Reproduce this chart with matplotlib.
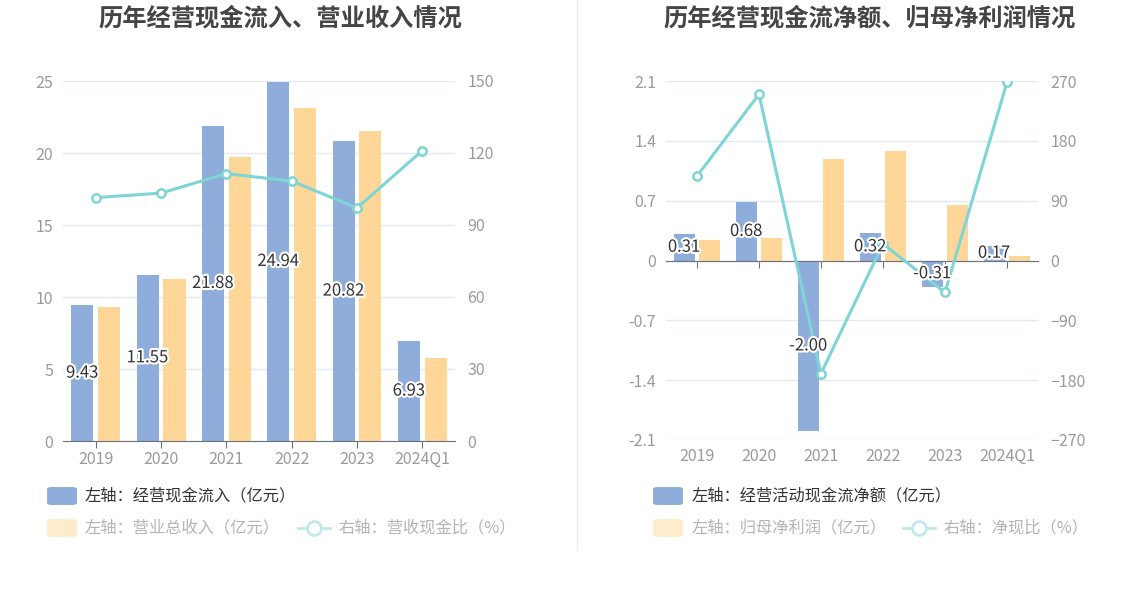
import numpy as np
import matplotlib
matplotlib.use("Agg")
import matplotlib.pyplot as plt
import matplotlib.patheffects as pe
from matplotlib.patches import FancyBboxPatch
from matplotlib.lines import Line2D
from matplotlib.transforms import blended_transform_factory

plt.rcParams['font.family'] = ['Noto Sans CJK SC', 'DejaVu Sans']

# --- datos ---
years = ["2019", "2020", "2021", "2022", "2023", "2024Q1"]

# gráfico izquierdo
cash_in = [9.43, 11.55, 21.88, 24.94, 20.82, 6.93]        # 经营现金流入 (亿元)
revenue = [9.33, 11.23, 19.72, 23.10, 21.53, 5.74]        # 营业总收入 (亿元)
rev_cash_ratio = [101.4, 103.3, 111.4, 108.3, 97.1, 121.0]  # 营收现金比 (%)

# gráfico derecho
net_cf = [0.31, 0.68, -2.00, 0.32, -0.31, 0.17]           # 经营活动现金流净额 (亿元)
net_profit = [0.234, 0.265, 1.183, 1.284, 0.648, 0.058]   # 归母净利润 (亿元)
cash_ratio = [127, 250, -170, 25, -48, 268]               # 净现比 (%)

left_ticks = [0, 5, 10, 15, 20, 25]
left_rticks = [0, 30, 60, 90, 120, 150]
right_ticks = [-2.1, -1.4, -0.7, 0, 0.7, 1.4, 2.1]
right_tick_labels = ["-2.1", "-1.4", "-0.7", "0", "0.7", "1.4", "2.1"]
right_rticks = [-270, -180, -90, 0, 90, 180, 270]

BLUE = "#8eaddb"
ORANGE = "#fed798"
TEAL = "#7fd4d6"
GRID = "#e4e8f2"
TICKC = "#9a9a9a"
AXC = "#6e7079"

W, H = 1148, 589
fig = plt.figure(figsize=(W/100, H/100), dpi=100)
fig.patch.set_facecolor("white")

def rect(l, t, r, b):
    return [l/W, 1-b/H, (r-l)/W, (b-t)/H]

def fx(x): return x/W
def fy(y): return 1-y/H

halo = [pe.withStroke(linewidth=3, foreground="white")]
x = np.arange(len(years))
bw = 0.34
off = 0.205
TS = 11.5

def style(ax, ax2):
    for a in (ax, ax2):
        for s in a.spines.values():
            s.set_visible(False)
    ax.set_xlim(-0.5, len(years)-0.5)
    ax.grid(axis="y", color=GRID, lw=1)
    ax.set_axisbelow(True)
    ax.tick_params(axis="y", length=0, labelsize=TS, labelcolor=TICKC, pad=7)
    ax2.tick_params(axis="y", length=0, labelsize=TS, labelcolor=TICKC, pad=9)

# ---------- izquierda ----------
ax = fig.add_axes(rect(63, 81, 455, 441))
ax2 = ax.twinx()
ax.bar(x-off, cash_in, bw, color=BLUE, zorder=2)
ax.bar(x+off, revenue, bw, color=ORANGE, zorder=2)
ax2.plot(x, rev_cash_ratio, color=TEAL, lw=2.2, marker="o", ms=6,
         mfc="white", mec=TEAL, mew=1.8, zorder=4)
ax.set_ylim(0, 25)
ax.set_yticks(left_ticks)
ax2.set_ylim(0, 150)
ax2.set_yticks(left_rticks)
for i, v in enumerate(cash_in):
    ax2.text(i-off, v/2*6, f"{v:.2f}", ha="center", va="center", fontsize=12,
             color="#333333", path_effects=halo, zorder=5)
style(ax, ax2)
ax.spines["bottom"].set_visible(True)
ax.spines["bottom"].set_color(AXC)
ax.set_xticks(x)
ax.set_xticklabels(years)
ax.tick_params(axis="x", length=5, color=AXC, labelsize=TS, labelcolor=TICKC, pad=2)
fig.text(fx(280), fy(18), "历年经营现金流入、营业收入情况", ha="center", va="center",
         fontsize=17.5, fontweight="bold", color="#454545")

# ---------- derecha ----------
bx = fig.add_axes(rect(666, 81, 1038, 440))
bx2 = bx.twinx()
bx.bar(x-off, net_cf, bw, color=BLUE, zorder=2)
bx.bar(x+off, net_profit, bw, color=ORANGE, zorder=2)
bx.set_ylim(-2.1, 2.1)
bx.set_yticks(right_ticks)
bx.set_yticklabels(right_tick_labels)
bx2.set_ylim(-270, 270)
bx2.set_yticks(right_rticks)
style(bx, bx2)
bx.spines["bottom"].set_visible(True)
bx.spines["bottom"].set_position(("data", 0))
bx.spines["bottom"].set_color(AXC)
bx.spines["bottom"].set_zorder(3)
bx.set_xticks(x)
bx.set_xticklabels([])
bx.tick_params(axis="x", length=5, color=AXC)
tr = blended_transform_factory(bx.transData, bx.transAxes)
for i, lab in enumerate(years):
    bx.text(i, -0.022, lab, transform=tr, ha="center", va="top",
            fontsize=TS, color=TICKC)
bx2.plot(x, cash_ratio, color=TEAL, lw=2.2, marker="o", ms=6,
         mfc="white", mec=TEAL, mew=1.8, zorder=4)
for i, v in enumerate(net_cf):
    bx2.text(i-off, v/2*270/2.1, f"{v:.2f}", ha="center", va="center", fontsize=12,
             color="#333333", path_effects=halo, zorder=5)
fig.text(fx(870), fy(18), "历年经营现金流净额、归母净利润情况", ha="center", va="center",
         fontsize=17.5, fontweight="bold", color="#454545")

# divisor
fig.add_artist(Line2D([fx(577), fx(577)], [fy(0), fy(550)], color="#eeeeee", lw=1))

# ---------- leyendas ----------
def swatch(x0, yc, color):
    fig.add_artist(FancyBboxPatch((fx(x0), fy(yc+9)), 30/W, 18/H,
                                  boxstyle="round,pad=0,rounding_size=0.004",
                                  transform=fig.transFigure, fc=color, ec="none"))

def line_icon(x0, yc):
    fig.add_artist(Line2D([fx(x0), fx(x0+32)], [fy(yc), fy(yc)], color="#bfe9ea", lw=2))
    fig.add_artist(Line2D([fx(x0+16)], [fy(yc)], marker="o", ms=10, mfc="white",
                          mec="#bfe9ea", mew=2))

def legend_text(x0, yc, s, color):
    fig.text(fx(x0), fy(yc), s, ha="left", va="center", fontsize=11.7, color=color)

swatch(47, 496, BLUE)
legend_text(85, 496, "左轴：经营现金流入（亿元）", "#333333")
swatch(47, 528, "#feeccd")
legend_text(85, 528, "左轴：营业总收入（亿元）", "#b4b4b4")
line_icon(298, 528)
legend_text(338, 528, "右轴：营收现金比（%）", "#b4b4b4")

swatch(653, 496, BLUE)
legend_text(692, 496, "左轴：经营活动现金流净额（亿元）", "#333333")
swatch(653, 528, "#feeccd")
legend_text(692, 528, "左轴：归母净利润（亿元）", "#b4b4b4")
line_icon(903, 528)
legend_text(943, 528, "右轴：净现比（%）", "#b4b4b4")

fig.savefig("out.png", dpi=100, facecolor="white")
